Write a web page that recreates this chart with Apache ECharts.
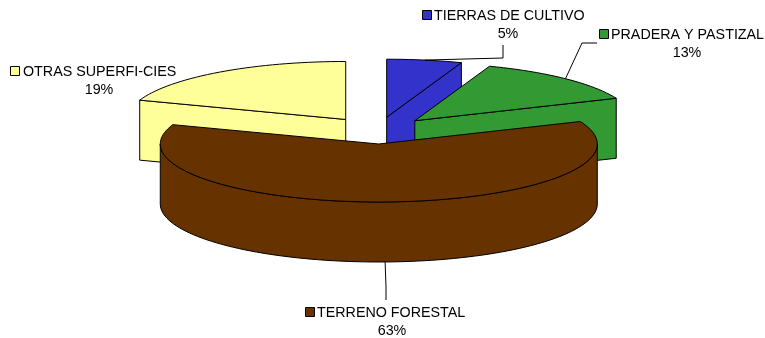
<!DOCTYPE html>
<html>
<head>
<meta charset="utf-8">
<title>Uso del suelo</title>
<style>
    html, body { margin: 0; padding: 0; background: #fff; }
    #chart { width: 765px; height: 338px; }
</style>
<script src="https://cdn.jsdelivr.net/npm/echarts@6/dist/echarts.min.js"></script>
</head>
<body>
<div id="chart"></div>
<script>
// datos
const categories = ['TIERRAS DE CULTIVO', 'PRADERA Y PASTIZAL', 'TERRENO FORESTAL', 'OTRAS SUPERFI-CIES'];
const values = [5, 13, 63, 19];

// estilos
const colors = ['#3333CC', '#339933', '#663300', '#FFFF99'];
const FONT = '"Liberation Sans", Arial, sans-serif';
// orden de pintado: el forestal queda delante de todo
const drawOrder = [2, 3, 4, 1];

// vista del pastel
const CX = 377.2;
const CY = 130.5;
const RX = 218.5;
const RY = 58;
const DEPTH = 60;
const EXPLODE_X = 54.5;
const EXPLODE_Y = 13.5;
// la vista 3D de Excel deforma un poco los angulos
const WARP = 1.12;

// posicion de cada etiqueta: x del cuadro, x del centro del %, y de cada linea
const labelPos = [
    { keyX: 422, textX: 434, pctX: 508, y: 16, leader: [[503, 58], [503, 45]] },
    { keyX: 599, textX: 611, pctX: 687, y: 35, leader: [[582, 43], [597, 43]] },
    { keyX: 305, textX: 317, pctX: 392, y: 313, leader: [[386, 287], [386, 300]] },
    { keyX: 10, textX: 23, pctX: 99, y: 72, leader: null }
];

const rad = deg => deg * Math.PI / 180;

// angulo real (horario desde las 12) -> angulo en la elipse
const warp = deg => {
    if (deg === 0 || deg === 360) {
        return deg;
    }
    const a = rad(deg);
    const out = Math.atan2(Math.sin(a) * WARP, Math.cos(a)) * 180 / Math.PI;
    return out < 0 ? out + 360 : out;
};

const total = values.reduce((a, b) => a + b, 0);

const sliceAngles = () => {
    let acc = 0;
    return values.map(v => {
        const start = warp(acc / total * 360);
        acc += v;
        const end = warp(acc / total * 360);
        return { start, end, mid: (start + end) / 2 };
    });
};

const angles = sliceAngles();

const point = (c, deg, dy = 0) => [
    c[0] + RX * Math.sin(rad(deg)),
    c[1] - RY * Math.cos(rad(deg)) + dy
];

const arc = (c, from, to, dy = 0) => {
    const pts = [];
    const n = Math.max(2, Math.ceil(Math.abs(to - from) / 2));
    for (let i = 0; i <= n; i++) {
        pts.push(point(c, from + (to - from) * i / n, dy));
    }
    return pts;
};

const renderSlice = (params, api) => {
    const i = params.dataIndex;
    const value = api.value(0);
    const { start, end, mid } = angles[i];
    const center = [
        CX + EXPLODE_X * Math.sin(rad(mid)),
        CY - EXPLODE_Y * Math.cos(rad(mid))
    ];
    const z2 = drawOrder[i];
    const style = { fill: colors[i], stroke: '#000', lineWidth: 1, lineJoin: 'round' };
    const children = [];
    const poly = points => children.push({ type: 'polygon', z2, shape: { points }, style });

    // caras radiales visibles
    [[start, start > 180 && start < 360], [end, end > 0 && end < 180]].forEach(([deg, visible]) => {
        if (visible) {
            const p = point(center, deg);
            poly([center, p, [p[0], p[1] + DEPTH], [center[0], center[1] + DEPTH]]);
        }
    });

    // canto exterior, solo la mitad de delante
    const from = Math.max(start, 90);
    const to = Math.min(end, 270);
    if (from < to) {
        poly(arc(center, from, to).concat(arc(center, to, from, DEPTH)));
    }

    // cara superior
    poly([center].concat(arc(center, start, end)));

    // etiqueta
    const pos = labelPos[i];
    if (pos.leader) {
        const onFront = mid > 90 && mid < 270;
        children.push({
            type: 'polyline',
            z2: 10,
            shape: { points: [point(center, mid, onFront ? DEPTH : 0)].concat(pos.leader) },
            style: { fill: null, stroke: '#000', lineWidth: 1 }
        });
    }
    children.push({
        type: 'rect',
        z2: 10,
        shape: { x: pos.keyX + 0.5, y: pos.y - 5.5, width: 9, height: 9 },
        style: { fill: colors[i], stroke: '#000', lineWidth: 1 }
    });
    const textStyle = { font: '14.3px ' + FONT, fill: '#000', textVerticalAlign: 'middle' };
    children.push({
        type: 'text',
        z2: 10,
        style: { ...textStyle, x: pos.textX, y: pos.y, text: categories[i], textAlign: 'left' }
    });
    children.push({
        type: 'text',
        z2: 10,
        style: { ...textStyle, x: pos.pctX, y: pos.y + 18, text: value + '%', textAlign: 'center' }
    });

    return { type: 'group', children };
};

const chart = echarts.init(document.getElementById('chart'), null, { renderer: 'canvas' });

chart.setOption({
    animation: false,
    backgroundColor: '#fff',
    series: [{
        type: 'custom',
        coordinateSystem: 'none',
        silent: true,
        clip: false,
        renderItem: renderSlice,
        data: values.map(v => [v])
    }]
});
</script>
</body>
</html>
